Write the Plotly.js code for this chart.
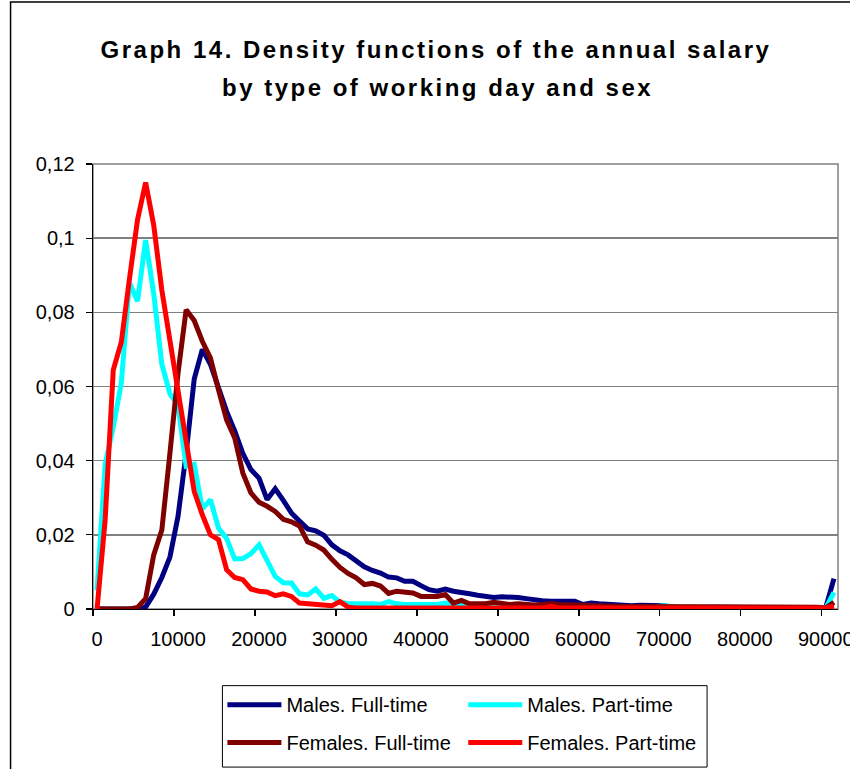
<!DOCTYPE html>
<html>
<head>
<meta charset="utf-8">
<script src="https://cdn.plot.ly/plotly-3.0.1.min.js"></script>
<style>
  html, body { margin: 0; padding: 0; background: #fff; }
  #chart { width: 850px; height: 769px; }
  text.gtitle, .annotation-text { letter-spacing: 2.5px; }
</style>
</head>
<body>
<div id="chart"></div>
<script>
// Salary categories (euros), one per 1000
const salary = [0,1000,2000,3000,4000,5000,6000,7000,8000,9000,
  10000,11000,12000,13000,14000,15000,16000,17000,18000,19000,
  20000,21000,22000,23000,24000,25000,26000,27000,28000,29000,
  30000,31000,32000,33000,34000,35000,36000,37000,38000,39000,
  40000,41000,42000,43000,44000,45000,46000,47000,48000,49000,
  50000,51000,52000,53000,54000,55000,56000,57000,58000,59000,
  60000,61000,62000,63000,64000,65000,66000,67000,68000,69000,
  70000,71000,72000,73000,74000,75000,76000,77000,78000,79000,
  80000,81000,82000,83000,84000,85000,86000,87000,88000,89000,
  90000,91000];

const malesFullTime = [0,0,0,0,0,0,0.0005,0.004,0.0085,0.014,
  0.025,0.042,0.062,0.070,0.066,0.0596,0.0533,0.048,0.042,0.0376,
  0.0353,0.0295,0.0324,0.0293,0.0259,0.0237,0.0216,0.0211,0.0199,0.0173,
  0.0157,0.0146,0.0128,0.0114,0.0104,0.0097,0.0086,0.0084,0.0075,0.0075,
  0.0063,0.0052,0.0048,0.0054,0.0048,0.0043,0.0041,0.0037,0.0034,0.0031,
  0.0033,0.0033,0.0031,0.0028,0.0024,0.0022,0.0021,0.002,0.0019,0.0021,
  0.0012,0.0016,0.0014,0.0012,0.0012,0.001,0.0009,0.001,0.001,0.001,
  0.0009,0.0005,0.0004,0.0004,0.0004,0.0004,0.0005,0.0004,0.0004,0.0004,
  0.0004,0.0004,0.0004,0.0004,0.0004,0.0004,0.0004,0.0004,0.0005,0.0004,
  0.0005,0.0082];

const malesPartTime = [0.005,0.039,0.049,0.061,0.088,0.083,0.0995,0.085,0.066,0.058,
  0.055,0.0385,0.039,0.027,0.0295,0.0218,0.019,0.0135,0.0136,0.0149,
  0.0173,0.0129,0.0088,0.0071,0.007,0.0041,0.0038,0.0054,0.0029,0.0036,
  0.0018,0.0015,0.0013,0.0014,0.0014,0.0012,0.002,0.0014,0.0012,0.0012,
  0.0012,0.0011,0.0012,0.0016,0.0011,0.001,0.0008,0.0006,0.0006,0.0005,
  0.0005,0.0005,0.0005,0.0005,0.0005,0.0005,0.0005,0.0005,0.0005,0.0005,
  0.0005,0.0005,0.0005,0.0005,0.0005,0.0005,0.0005,0.0005,0.0005,0.0006,
  0.0009,0.0006,0.0004,0.0004,0.0004,0.0004,0.0004,0.0004,0.0004,0.0004,
  0.0004,0.0004,0.0004,0.0004,0.0004,0.0004,0.0004,0.0004,0.0004,0.0004,
  0.0003,0.0045];

const femalesFullTime = [0,0,0,0,0,0.0004,0.0028,0.0146,0.0213,0.042,
  0.0636,0.0807,0.0778,0.0722,0.0677,0.0591,0.051,0.0461,0.0367,0.0313,
  0.0288,0.0277,0.0263,0.0242,0.0235,0.0224,0.0181,0.0172,0.0159,0.0134,
  0.0112,0.0096,0.0084,0.0066,0.0069,0.0062,0.0042,0.0048,0.0045,0.0043,
  0.0034,0.0034,0.0034,0.0039,0.0016,0.0023,0.0014,0.0014,0.0014,0.0018,
  0.0014,0.0012,0.0014,0.0012,0.0011,0.0012,0.0014,0.0012,0.0011,0.001,
  0.0009,0.0009,0.0008,0.0008,0.0008,0.0007,0.0007,0.0007,0.0006,0.0006,
  0.0005,0.0005,0.0005,0.0005,0.0006,0.0008,0.0005,0.0005,0.0005,0.0005,
  0.0005,0.0005,0.0005,0.0005,0.0005,0.0005,0.0005,0.0005,0.0008,0.0005,
  0.0003,0.0018];

const femalesPartTime = [0,0.024,0.0644,0.072,0.089,0.105,0.115,0.1035,0.086,0.072,
  0.060,0.0439,0.0317,0.0254,0.020,0.0187,0.0106,0.0085,0.0079,0.0054,
  0.0048,0.0046,0.0036,0.0041,0.0034,0.0016,0.0014,0.0011,0.0011,0.0009,
  0.002,0.0005,0.0003,0.0003,0.0003,0.0003,0.0003,0.0003,0.0003,0.0003,
  0.0003,0.0003,0.0003,0.0003,0.0003,0.0003,0.0003,0.0003,0.0003,0.0003,
  0.0003,0.0003,0.0003,0.0003,0.0003,0.0003,0.0007,0.0003,0.0003,0.0003,
  0.0003,0.0003,0.0003,0.0003,0.0003,0.0003,0.0003,0.0003,0.0003,0.0003,
  0.0003,0.0003,0.0003,0.0003,0.0003,0.0003,0.0003,0.0003,0.0003,0.0003,
  0.0003,0.0003,0.0003,0.0003,0.0003,0.0003,0.0003,0.0003,0.0003,0.0003,
  0.0003,0.0008];

const seriesNames = ['Males. Full-time', 'Males. Part-time', 'Females. Full-time', 'Females. Part-time'];
const seriesColors = ['#000080', '#00FFFF', '#800000', '#FF0000'];

// Axis ticks: marks sit on category boundaries, labels on categories
const xTickPositions = [-500, 9500, 19500, 29500, 39500, 49500, 59500, 69500, 79500, 89500];
const xTickLabels = ['0', '10000', '20000', '30000', '40000', '50000', '60000', '70000', '80000', '90000'];
const yTickValues = [0, 0.02, 0.04, 0.06, 0.08, 0.1, 0.12];
const yTickLabels = ['0', '0,02', '0,04', '0,06', '0,08', '0,1', '0,12'];

const titleLine1 = 'Graph 14. Density functions of the annual salary';
const titleLine2 = 'by type of working day and sex';

const FONT = '"Liberation Sans", Arial, Helvetica, sans-serif';
const seriesValues = [malesFullTime, malesPartTime, femalesFullTime, femalesPartTime];
const legendIds = ['legend', 'legend2', 'legend3', 'legend4'];

const traces = seriesValues.map((vals, i) => ({
  type: 'scatter',
  mode: 'lines',
  x: salary,
  y: vals,
  name: seriesNames[i],
  legend: legendIds[i],
  line: { color: seriesColors[i], width: 5 },
  hoverinfo: 'skip'
}));

// layout geometry (pixels)
const L = 92.5, R = 838, T = 164, B = 609.3, W = 850, H = 769;
const pw = R - L, ph = B - T;
const px = v => (v - L) / pw;
const py = v => (B - v) / ph;

const legendFont = { family: FONT, size: 20, color: '#000' };
function legendAt(xpix, ypix) {
  return {
    x: px(xpix), y: py(ypix), xanchor: 'left', yanchor: 'middle',
    xref: 'paper', yref: 'paper',
    bgcolor: 'rgba(0,0,0,0)', borderwidth: 0,
    font: legendFont, itemwidth: 54, orientation: 'h'
  };
}

const titleFont = { family: FONT, size: 24, color: '#000', weight: 'bold' };

const layout = {
  width: W, height: H,
  paper_bgcolor: '#fff', plot_bgcolor: '#fff',
  margin: { l: L, r: W - R, t: T, b: H - B, pad: 0, autoexpand: false },
  font: { family: FONT, color: '#000', size: 20 },
  title: {
    text: titleLine1,
    font: titleFont,
    xref: 'container', yref: 'container',
    x: 436 / W, xanchor: 'center',
    y: 1 - 50 / H, yanchor: 'middle'
  },
  annotations: [
    { text: titleLine2, font: titleFont, showarrow: false,
      xref: 'paper', yref: 'paper', x: px(437), y: py(87),
      xanchor: 'center', yanchor: 'middle' }
  ],
  showlegend: true,
  legend: legendAt(222, 705),
  legend2: legendAt(463, 705),
  legend3: legendAt(222, 743),
  legend4: legendAt(463, 743),
  xaxis: {
    range: [-500, 91500],
    showgrid: false, zeroline: false,
    showline: true, linecolor: '#000', linewidth: 1.3,
    ticks: 'outside', ticklen: 6, tickcolor: '#000', tickwidth: 1.3,
    tickmode: 'array', tickvals: xTickPositions, ticktext: xTickLabels,
    ticklabelshift: 4, ticklabelstandoff: 6, ticklabeloverflow: 'allow',
    tickfont: { family: FONT, size: 20, color: '#000' },
    fixedrange: true
  },
  yaxis: {
    range: [0, 0.12],
    showgrid: true, gridcolor: '#808080', gridwidth: 1.5,
    zeroline: false,
    showline: true, linecolor: '#000', linewidth: 1.3,
    ticks: 'outside', ticklen: 6, tickcolor: '#000', tickwidth: 1.3,
    tickmode: 'array', tickvals: yTickValues, ticktext: yTickLabels,
    ticklabelstandoff: 7,
    tickfont: { family: FONT, size: 20, color: '#000' },
    fixedrange: true
  },
  shapes: [
    // outer chart border
    { type: 'rect', xref: 'paper', yref: 'paper', layer: 'below',
      x0: px(10), x1: px(900), y0: py(900), y1: py(2),
      line: { color: '#000', width: 1.5 }, fillcolor: 'rgba(0,0,0,0)' },
    // plot area border
    { type: 'rect', xref: 'paper', yref: 'paper', layer: 'below',
      x0: 0, x1: 1, y0: 0, y1: 1,
      line: { color: '#808080', width: 1.5 }, fillcolor: 'rgba(0,0,0,0)' },
    // legend box
    { type: 'rect', xref: 'paper', yref: 'paper', layer: 'below',
      x0: px(222), x1: px(707), y0: py(767.5), y1: py(686),
      line: { color: '#000', width: 1 }, fillcolor: 'rgba(0,0,0,0)' }
  ]
};

Plotly.newPlot('chart', traces, layout, { displayModeBar: false, staticPlot: true });
</script>
</body>
</html>
